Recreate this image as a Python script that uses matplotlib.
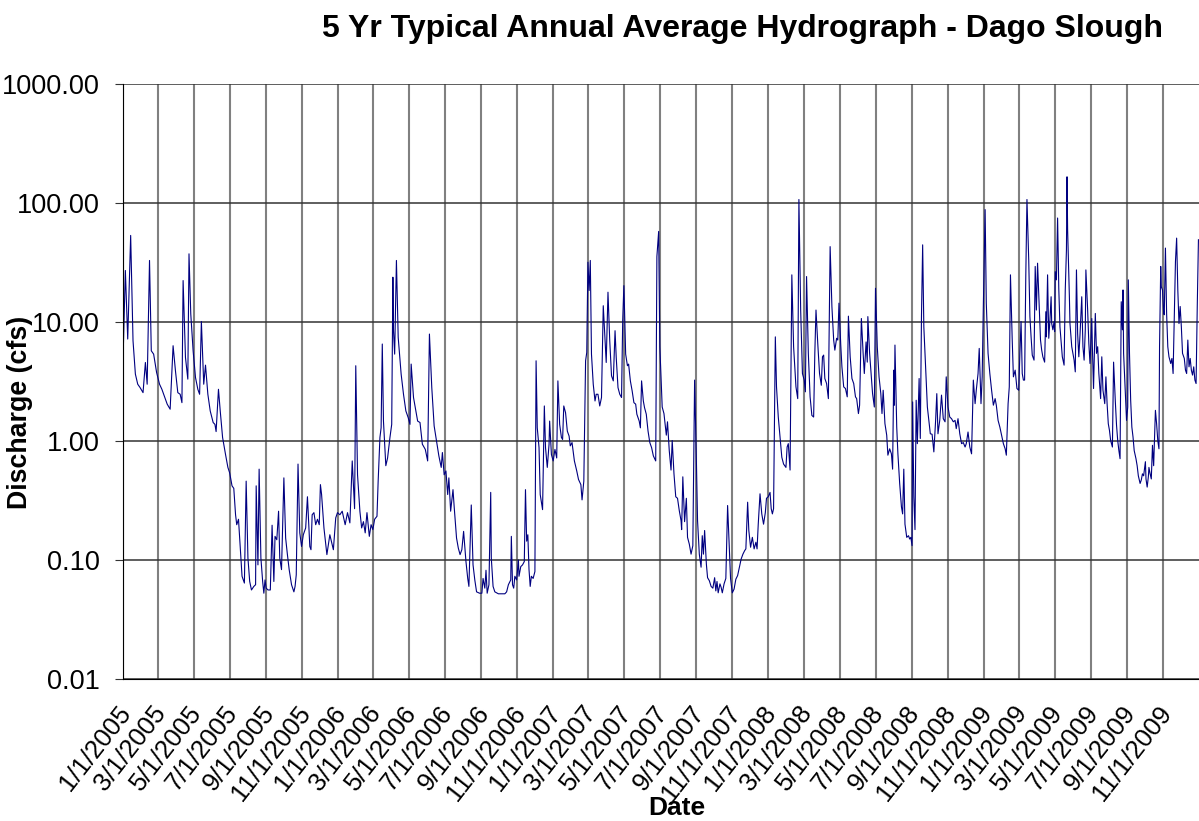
import pandas as pd
import matplotlib
matplotlib.use('Agg')
import matplotlib.pyplot as plt
import matplotlib.dates as mdates
import matplotlib.transforms as mtransforms
from matplotlib.ticker import FixedLocator, FuncFormatter, NullLocator

plt.rcParams['font.family'] = ['Liberation Sans', 'DejaVu Sans']

days = [
    0, 4, 8, 13, 17, 21, 25, 29, 34, 38, 41, 45, 48, 52, 57, 62, 66, 70, 75, 80,
    85, 89, 93, 97, 100, 102, 106, 110, 112, 115, 119, 123, 127, 130, 133, 137, 140, 144, 148, 153,
    156, 158, 162, 165, 169, 174, 178, 181, 185, 188, 191, 193, 196, 199, 202, 206, 209, 212, 215, 218,
    222, 225, 226, 229, 231, 234, 237, 239, 241, 243, 246, 250, 253, 256, 258, 261, 264, 266, 269, 273,
    276, 279, 282, 286, 290,
    292, 294, 297, 300, 303, 306, 310, 313, 317, 319, 321, 324, 327, 330, 333, 335, 337, 341, 346, 351,
    357, 361, 364, 368, 372, 377, 381, 385, 389, 393, 395, 398, 402, 405, 408, 411, 414, 418, 421, 424,
    427, 431, 433, 436, 438, 440, 442, 446, 449, 453, 456, 458, 459, 461, 464, 467, 472, 476, 480, 484,
    487, 489, 493, 497, 500, 504, 508, 513, 517, 520, 524, 528, 532, 536, 540, 542, 545, 548, 551, 553,
    556, 560, 562, 566, 569, 572, 575, 578, 582, 585, 587, 591, 594,
    597, 600, 605, 609, 611, 614, 616, 618, 621, 624, 625, 628, 631, 637, 642, 648, 651, 654, 658, 659,
    661, 663, 665, 668, 671, 672, 675, 678, 681, 683, 685, 687, 689, 691, 693, 696, 699, 701, 703, 706,
    708, 712, 715, 717, 720, 723, 724, 727, 730, 733, 736, 738, 741, 744, 746, 748, 751, 754, 757, 759,
    762, 766, 770, 773, 777, 779, 782, 785, 787, 789, 791, 793, 795, 798, 801, 803, 806, 809, 812, 815,
    818, 820, 823, 826, 829, 832, 835, 837, 840, 843, 846, 848, 850, 853, 856, 858, 861, 864, 867, 870,
    872, 876, 878, 880, 883, 885, 888, 891, 894, 897, 900, 904,
    906, 909, 911, 915, 918, 922, 924, 927, 930, 932, 935, 938, 941, 944, 947, 948, 950, 953, 956, 958,
    961, 964, 967, 970, 973, 975, 978, 981, 983, 985, 987, 990, 992, 995, 998, 1001, 1004, 1006, 1008, 1010,
    1013, 1015, 1017, 1020, 1023, 1026, 1029, 1031, 1034, 1037, 1040, 1043, 1046, 1049, 1052, 1055, 1057, 1060, 1062, 1065,
    1068, 1071, 1074, 1076, 1078, 1081, 1084, 1087, 1090, 1092, 1095, 1098, 1100, 1102, 1104, 1107, 1109, 1112, 1115, 1118,
    1121, 1125, 1127, 1129, 1132, 1135, 1138, 1142, 1145, 1147, 1150, 1153, 1156, 1158, 1160, 1163, 1166, 1169, 1172, 1174,
    1176, 1179, 1182, 1185, 1187, 1189, 1191, 1194, 1197, 1200, 1203, 1206,
    1208, 1211, 1213, 1215, 1218, 1220, 1223, 1226, 1229, 1231, 1234, 1237, 1240, 1243, 1245, 1248, 1250, 1253, 1256, 1258,
    1261, 1263, 1264, 1267, 1270, 1272, 1275, 1277, 1280, 1283, 1286, 1288, 1290, 1293, 1296, 1298, 1301, 1304, 1306, 1308,
    1309, 1310, 1313, 1315, 1318, 1321, 1323, 1325, 1327, 1330, 1333, 1335, 1337, 1339, 1340, 1342, 1344, 1346, 1348, 1351,
    1353, 1355, 1357, 1359, 1362, 1365, 1368, 1370, 1373, 1376, 1379, 1381, 1383, 1386, 1389, 1392, 1395, 1397, 1400, 1403,
    1406, 1409, 1412, 1414, 1417, 1420, 1423, 1426, 1429, 1431, 1434, 1437, 1440, 1443, 1446, 1448, 1451, 1453, 1456, 1458,
    1460, 1463, 1465, 1468, 1471, 1474, 1477, 1480, 1482, 1485, 1488, 1491, 1494, 1497, 1499, 1502, 1504, 1506, 1509, 1511,
    1514, 1517, 1520, 1522, 1524, 1526, 1528, 1530, 1532, 1534, 1537, 1539, 1541, 1543, 1546, 1548, 1550, 1552, 1555, 1557,
    1559, 1561, 1564, 1566, 1567, 1569, 1571, 1573, 1575, 1576, 1578, 1580, 1581, 1582, 1584, 1586, 1588, 1590, 1592, 1594,
    1597, 1599, 1601, 1602, 1603, 1606, 1607, 1610, 1611, 1614, 1616, 1618, 1620, 1622, 1624, 1627, 1629, 1631, 1633, 1634,
    1637, 1639, 1641, 1644, 1645, 1647, 1650, 1652, 1654, 1656, 1659, 1661, 1663, 1666, 1668, 1670, 1672, 1674, 1676, 1679,
    1681, 1684, 1686, 1688, 1690, 1692, 1694, 1696, 1697, 1698, 1701, 1703, 1705, 1706, 1708, 1710, 1712, 1714, 1716, 1719,
    1721, 1723, 1726, 1728, 1730, 1732, 1735, 1736, 1738, 1740, 1741, 1743, 1745, 1747, 1749, 1752, 1754, 1756, 1758, 1759,
    1761, 1762, 1764, 1766, 1767, 1769, 1771, 1773, 1775, 1778, 1780, 1782, 1784, 1786, 1788, 1790, 1792, 1794, 1796, 1798,
    1801, 1803, 1805, 1807, 1809, 1811, 1813, 1815, 1817, 1819, 1821, 1823, 1825,
]
flow = [
    4.72, 27.1, 7.19, 53.4, 6.96, 3.65, 3.0, 2.81, 2.55, 4.57, 3.0, 32.9, 5.73, 5.37, 3.77, 3.0, 2.72, 2.39, 2.04, 1.85,
    6.32, 3.89, 2.55, 2.47, 2.1, 22.3, 5.04, 3.31, 37.4, 11.7, 5.73, 3.42, 2.72, 2.47, 10.1, 3.0, 4.34, 2.47, 1.79, 1.43,
    1.38, 1.2, 2.72, 1.79, 1.07, 0.77, 0.60, 0.54, 0.42, 0.40, 0.24, 0.198, 0.22, 0.126, 0.073, 0.064, 0.46, 0.104, 0.066, 0.056,
    0.06, 0.062, 0.42, 0.091, 0.58, 0.104, 0.066, 0.0526, 0.068, 0.058, 0.056, 0.056, 0.196, 0.066, 0.158, 0.148, 0.257, 0.104, 0.083, 0.49,
    0.153, 0.111, 0.083, 0.062, 0.054,
    0.06, 0.075, 0.64, 0.169, 0.13, 0.163, 0.186, 0.34, 0.13, 0.122, 0.24, 0.25, 0.198, 0.22, 0.198, 0.43, 0.355, 0.186, 0.111, 0.163,
    0.122, 0.226, 0.25, 0.24, 0.257, 0.198, 0.25, 0.205, 0.68, 0.27, 4.29, 0.52, 0.257, 0.186, 0.21, 0.169, 0.25, 0.158, 0.198, 0.18,
    0.22, 0.233, 0.46, 1.07, 1.29, 6.53, 1.47, 0.62, 0.72, 1.07, 1.38, 23.8, 8.45, 5.37, 32.9, 7.43, 3.65, 2.47, 1.79, 1.57,
    1.38, 4.43, 2.32, 1.79, 1.47, 1.43, 0.94, 0.85, 0.68, 7.92, 2.81, 1.34, 1.0, 0.75, 0.60, 0.80, 0.52, 0.56, 0.355, 0.49,
    0.257, 0.39, 0.28, 0.153, 0.126, 0.111, 0.122, 0.174, 0.097, 0.070, 0.06, 0.29, 0.091,
    0.068, 0.054, 0.0526, 0.0526, 0.070, 0.058, 0.082, 0.0526, 0.062, 0.37, 0.104, 0.06, 0.054, 0.052, 0.052, 0.052, 0.054, 0.062, 0.068, 0.158,
    0.062, 0.058, 0.073, 0.068, 0.10, 0.073, 0.088, 0.091, 0.097, 0.39, 0.144, 0.163, 0.083, 0.06, 0.073, 0.070, 0.080, 4.72, 1.29, 0.88,
    0.355, 0.265, 1.97, 0.88, 0.60, 0.94, 1.47, 0.77, 0.68, 0.85, 0.72, 3.2, 1.38, 1.07, 1.03, 1.97, 1.73, 1.21, 1.1, 0.91,
    0.97, 0.68, 0.56, 0.475, 0.43, 0.32, 0.46, 4.72, 5.55, 31.8, 18.4, 32.9, 5.37, 3.0, 2.17, 2.47, 2.47, 1.97, 2.32, 13.7,
    6.96, 4.57, 17.8, 6.96, 3.53, 3.2, 8.45, 5.04, 2.81, 2.47, 2.32, 10.3, 20.2, 5.37, 4.29, 4.43, 3.2, 2.64, 2.1, 2.04,
    1.68, 1.47, 1.29, 3.2, 2.17, 1.91, 1.68, 1.21, 0.97, 0.88, 0.75, 0.68,
    35.5, 57.7, 6.2, 1.93, 1.7, 1.12, 1.45, 0.83, 0.57, 1.01, 0.53, 0.34, 0.33, 0.26, 0.214, 0.18, 0.50, 0.21, 0.33, 0.155,
    0.136, 0.112, 0.132, 3.25, 0.69, 0.214, 0.112, 0.087, 0.16, 0.112, 0.177, 0.092, 0.071, 0.067, 0.06, 0.058, 0.071, 0.055, 0.066, 0.053,
    0.063, 0.059, 0.053, 0.063, 0.070, 0.287, 0.12, 0.070, 0.053, 0.057, 0.069, 0.074, 0.087, 0.102, 0.112, 0.12, 0.124, 0.306, 0.177, 0.128,
    0.155, 0.124, 0.141, 0.124, 0.20, 0.36, 0.244, 0.20, 0.25, 0.33, 0.34, 0.37, 0.27, 0.244, 0.27, 7.5, 2.85, 1.59, 1.08, 0.73,
    0.64, 0.60, 0.89, 0.95, 0.57, 24.9, 6.2, 2.85, 2.27, 107, 12.6, 3.69, 3.25, 2.59, 24.1, 5.45, 2.35, 1.64, 1.59, 5.45,
    12.6, 6.6, 3.69, 2.94, 5.1, 5.27, 3.35, 3.04, 2.27, 43, 13.5, 7.05,
    5.8, 7.3, 7.05, 14.4, 6.4, 4.2, 2.85, 2.76, 2.35, 11.2, 5.1, 3.35, 3.04, 2.35, 2.27, 1.7, 2.0, 10.7, 5.45, 3.69,
    6.8, 4.6, 11.1, 5.45, 3.46, 2.5, 1.93, 19.2, 6.2, 3.46, 2.5, 1.7, 2.67, 1.4, 1.12, 0.76, 0.86, 0.78, 0.58, 3.94,
    2.0, 6.4, 1.31, 0.78, 0.44, 0.28, 0.244, 0.58, 0.20, 0.155, 0.16, 0.15, 0.155, 0.132, 2.13, 0.34, 0.18, 2.2, 0.95, 3.35,
    1.05, 11.1, 44.5, 9.1, 4.2, 1.93, 1.4, 1.15, 1.14, 0.81, 1.49, 2.5, 1.15, 1.49, 2.43, 1.54, 1.45, 3.46, 1.93, 1.59,
    1.54, 1.45, 1.49, 1.27, 1.54, 1.15, 0.95, 0.97, 0.89, 0.95, 1.19, 0.89, 0.78, 3.25, 2.06, 2.67, 3.69, 6.0, 2.06, 3.46,
    13.5, 88, 14.4, 5.45, 3.69, 2.67, 2.0, 2.27, 2.0, 1.49, 1.31, 1.12, 0.95, 0.86, 0.76, 2.06, 2.85, 24.9, 7.05, 3.46,
    3.94, 2.76, 2.67, 5.45, 10.1, 3.69, 3.25, 3.25, 24.1, 107, 33.3, 11.1, 7.5, 5.27, 4.78, 29.3, 12.6, 31.2, 12.6, 7.05,
    5.8, 5.1, 4.6, 12.2, 7.5, 24.9, 7.3, 10.4, 16.3, 9.7, 8.6, 10.1, 8.3, 26.5, 22.6, 74.8, 19.2, 9.1, 6.8, 5.1,
    4.34, 18.6, 40.4, 166, 59.6, 16.3, 9.7, 6.2, 5.8, 4.78, 3.81, 27.4, 8.0, 5.1, 7.77, 16.3, 6.2, 4.78, 8.6, 27.4,
    12.6, 6.6, 4.48, 10.7, 6.2, 2.76, 11.8, 5.45, 6.2, 3.69, 2.27, 5.1, 2.67, 2.06, 3.46, 2.06, 1.4, 1.23, 1.01, 0.89,
    4.6, 2.13, 1.36, 1.01, 0.83, 0.71, 14.8, 8.6, 18.6, 5.45, 2.5, 1.49, 1.93, 22.6, 5.45, 2.2, 1.31, 1.08, 0.83, 0.71,
    0.62, 0.51, 0.44, 0.47, 0.53, 0.51, 0.67, 0.48, 0.41, 0.50, 0.60, 0.53, 0.48, 0.92, 0.62, 1.81, 1.4, 1.01, 0.86, 6.2,
    29.3, 19.8, 18.6, 11.8, 11.5, 41.8, 11.8, 6.2, 5.1, 4.48, 4.94, 3.69, 11.5, 32.2, 50.7, 18.6, 9.7, 13.5, 9.1, 5.45,
    4.94, 3.94, 3.69, 7.05, 4.2, 4.94, 3.94, 3.58, 4.2, 3.25, 3.04, 13.5, 49.1,
]

y_ticks = [0.01, 0.1, 1, 10, 100, 1000]
start = pd.Timestamp('2005-01-01')
end = pd.Timestamp('2009-12-31 23:00')

dates = start + pd.to_timedelta(days, unit='D')

fig = plt.figure(figsize=(11.99, 8.21), dpi=100)
ax = fig.add_axes([123 / 1199, 1 - 679 / 821, 1076 / 1199, 595 / 821])

ax.plot(dates, flow, color='#000080', linewidth=0.8)

ax.set_yscale('log')
ax.set_ylim(0.01, 1000)
ax.yaxis.set_major_locator(FixedLocator(y_ticks))
ax.yaxis.set_minor_locator(NullLocator())
ax.yaxis.set_major_formatter(FuncFormatter(lambda v, p: f'{v:.2f}'))

ax.set_xlim(start, end)
ax.xaxis.set_major_locator(mdates.MonthLocator(bymonth=[1, 3, 5, 7, 9, 11]))
ax.xaxis.set_major_formatter(FuncFormatter(
    lambda v, p: '{d.month}/{d.day}/{d.year}'.format(d=mdates.num2date(v))))

ax.grid(axis='x', color='#808080', linewidth=1.5)
ax.grid(axis='y', color='#333333', linewidth=1.1)
ax.set_axisbelow(True)

for side in ['top', 'right']:
    ax.spines[side].set_visible(False)
ax.spines['left'].set_color('black')
ax.spines['bottom'].set_color('black')

ax.tick_params(axis='y', labelsize=19.5, length=6, color='#333333', pad=11)
ax.tick_params(axis='x', labelsize=18.5, length=0, pad=16)
shift = mtransforms.ScaledTranslation(-0.06, 0, fig.dpi_scale_trans)
for lbl in ax.get_xticklabels():
    lbl.set_rotation(52)
    lbl.set_ha('right')
    lbl.set_va('top')
    lbl.set_rotation_mode('anchor')
    lbl.set_transform(lbl.get_transform() + shift)

fig.text(20 / 1199, 1 - 412 / 821, 'Discharge (cfs)', fontsize=19.3, fontweight='bold',
         rotation=90, ha='center', va='center')
fig.text(677 / 1199, 1 - 808 / 821, 'Date', fontsize=19, fontweight='bold',
         ha='center', va='center')
fig.text(742 / 1199, 1 - 29 / 821, '5 Yr Typical Annual Average Hydrograph - Dago Slough',
         fontsize=23, fontweight='bold', ha='center', va='center')

fig.savefig('out.png', dpi=100)
